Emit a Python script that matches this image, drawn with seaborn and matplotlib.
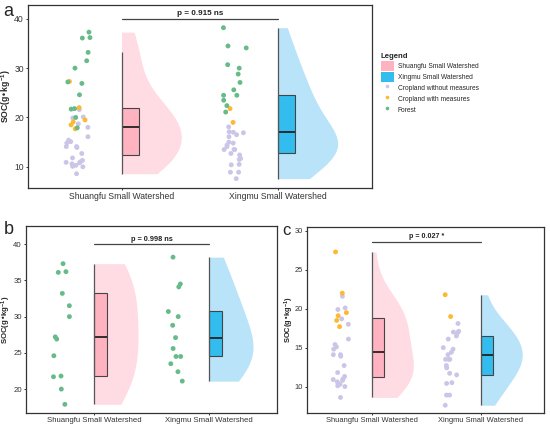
import numpy as np
import pandas as pd
import matplotlib
matplotlib.use('Agg')
import matplotlib.pyplot as plt
import matplotlib.transforms as mtransforms
from matplotlib.patches import Patch, Rectangle
from matplotlib.lines import Line2D
import seaborn as sns

sns.set_style('ticks')
plt.rcParams['font.family'] = ['Liberation Sans', 'DejaVu Sans']
plt.rcParams['mathtext.default'] = 'regular'

watersheds = ['Shuangfu Small Watershed', 'Xingmu Small Watershed']
land_uses = ['Cropland without measures', 'Cropland with measures', 'Forest']

# SOC values (g/kg)
shuangfu_forest = [37.3, 36.2, 36.1, 33.2, 31.5, 30.0, 27.2, 26.9, 24.6, 21.8, 21.7, 20.0, 17.9]
xingmu_forest = [38.2, 34.5, 34.1, 30.7, 30.0, 28.8, 27.1, 25.6, 24.5, 24.5, 23.5, 22.4, 21.1]
shuangfu_with = [27.3, 22.0, 19.5, 19.1, 18.5, 17.7]
xingmu_with = [21.8, 19.0]
shuangfu_without = [21.6, 20.1, 19.9, 18.7, 18.0, 16.1, 15.4, 15.1, 14.8, 14.1, 14.1, 13.9,
                    12.7, 11.8, 11.3, 11.0, 10.9, 10.8, 10.6, 10.3, 10.1, 10.0, 8.6]
xingmu_without = [18.1, 17.1, 17.0, 16.9, 16.5, 16.1, 15.0, 14.8, 14.4, 14.1, 13.5, 13.5,
                  13.5, 12.7, 12.4, 11.7, 11.5, 10.5, 10.4, 8.9, 8.9, 7.6]

# box stats (q1, median, q3, whisker low, whisker high) per watershed
box_a = [(12.4, 18.0, 21.9, 8.6, 33.2), (12.7, 17.0, 24.5, 7.6, 38.2)]
box_b = [(21.8, 27.2, 33.2, 17.9, 37.3), (24.5, 27.1, 30.8, 21.1, 38.2)]
box_c = [(11.2, 14.4, 18.8, 8.6, 27.3), (11.5, 14.1, 16.5, 7.6, 21.8)]

p_labels = ['p = 0.915 ns', 'p = 0.998 ns', 'p = 0.027 *']


def make_df(groups):
    rows = []
    for ws, lu, vals in groups:
        for v in vals:
            rows.append({'watershed': ws, 'land use': lu, 'soc': v})
    return pd.DataFrame(rows)


forest = [(watersheds[0], land_uses[2], shuangfu_forest), (watersheds[1], land_uses[2], xingmu_forest)]
cropland = [(watersheds[0], land_uses[0], shuangfu_without), (watersheds[0], land_uses[1], shuangfu_with),
            (watersheds[1], land_uses[0], xingmu_without), (watersheds[1], land_uses[1], xingmu_with)]
df_a = make_df(cropland + forest)
df_b = make_df(forest)
df_c = make_df(cropland)

violin_colors = {watersheds[0]: '#FFDCE3', watersheds[1]: '#B8E3F8'}
box_colors = ['#FFB3C1', '#33BDEE']
point_colors = {land_uses[0]: '#CBC6E8', land_uses[1]: '#FDB933', land_uses[2]: '#66BB88'}


def draw_panel(ax, df, box, ylim, yticks, p_label, p_y, fs, xlim, label_x):
    sns.violinplot(data=df, x='watershed', y='soc', hue='watershed', order=watersheds,
                   hue_order=watersheds, palette=violin_colors, inner=None, cut=0,
                   density_norm='width', width=0.76, linewidth=0, saturation=1,
                   bw_adjust=1.2, legend=False, ax=ax)
    # keep only the right half of each violin
    for coll in list(ax.collections):
        pos = round(coll.get_paths()[0].vertices[:, 0].mean())
        coll.set_clip_path(Rectangle((pos, -100), 1, 1000, transform=ax.transData))

    n_before = len(ax.collections)
    np.random.seed(3)
    sns.stripplot(data=df, x='watershed', y='soc', hue='land use', order=watersheds,
                  hue_order=land_uses, palette=point_colors, jitter=0.08, size=3.5,
                  linewidth=0, legend=False, ax=ax)
    shift = mtransforms.Affine2D().translate(-0.28, 0) + ax.transData
    for coll in ax.collections[n_before:]:
        coll.set_offset_transform(shift)

    stats = [dict(q1=q1, med=m, q3=q3, whislo=lo, whishi=hi, fliers=[]) for q1, m, q3, lo, hi in box]
    bp = ax.bxp(stats, positions=[0.055, 1.055], widths=0.11, patch_artist=True,
                showcaps=False, showfliers=False, manage_ticks=False,
                boxprops=dict(edgecolor='#444444', linewidth=0.8),
                medianprops=dict(color='#222222', linewidth=1.3),
                whiskerprops=dict(linewidth=0))
    for patch, c in zip(bp['boxes'], box_colors):
        patch.set_facecolor(c)
    ax.vlines([0, 1], [b[3] for b in box], [b[4] for b in box], color='#555555', linewidth=0.9, zorder=3)

    ax.plot([0, 1], [p_y, p_y], color='#444444', linewidth=0.9)
    ax.text(0.5, p_y + (ylim[1] - ylim[0]) * 0.008, p_label, ha='center', va='bottom',
            fontsize=fs - 0.3, fontweight='bold', color='#222222')

    ax.set_xlim(*xlim)
    ax.set_ylim(*ylim)
    ax.set_yticks(yticks)
    ax.set_xlabel('')
    ax.set_ylabel('SOC(g•kg$^{-1}$)', fontsize=fs, fontweight='bold')
    ax.yaxis.set_label_coords(label_x, 0.5)
    for s in ax.spines.values():
        s.set_visible(True)
        s.set_color('#333333')
        s.set_linewidth(0.9)
    ax.tick_params(labelsize=fs, length=1.5, width=0.7, colors='#333333', pad=1.5)


fig = plt.figure(figsize=(5.5, 4.28), dpi=100)
ax_a = fig.add_axes([0.0509, 0.5607, 0.6255, 0.4276])
ax_b = fig.add_axes([0.0473, 0.035, 0.4564, 0.437])
ax_c = fig.add_axes([0.5576, 0.035, 0.4315, 0.4346])

draw_panel(ax_a, df_a, box_a, (5.7, 42.8), [10, 20, 30, 40], p_labels[0], 40, 6.2,
           (-0.6, 1.6), -0.0436)
draw_panel(ax_b, df_b, box_b, (16.7, 42.5), [20, 25, 30, 35, 40], p_labels[1], 40, 5.6,
           (-0.594, 1.589), -0.052)
draw_panel(ax_c, df_c, box_c, (6.6, 30.5), [10, 15, 20, 25, 30], p_labels[2], 28.6, 5.4,
           (-0.6, 1.58), -0.046)

fig.text(0.006, 0.993, 'a', fontsize=13, va='top')
fig.text(0.006, 0.483, 'b', fontsize=13, va='top')
fig.text(0.514, 0.478, 'c', fontsize=12, va='top')

handles = [Patch(facecolor=box_colors[0], edgecolor='none'),
           Patch(facecolor=box_colors[1], edgecolor='none')]
handles += [Line2D([], [], marker='o', ls='', markersize=2.6, markeredgewidth=0,
                   color=point_colors[lu]) for lu in land_uses]
leg = fig.legend(handles, watersheds + land_uses, title='Legend', loc='upper left',
                 bbox_to_anchor=(0.692, 0.876), frameon=False, fontsize=4.8,
                 title_fontproperties={'weight': 'bold', 'size': 5.6},
                 handlelength=2.0, handleheight=2.0, labelspacing=0.1,
                 handletextpad=0.6, borderpad=0, borderaxespad=0, alignment='left')

fig.savefig('out.png', dpi=100)
